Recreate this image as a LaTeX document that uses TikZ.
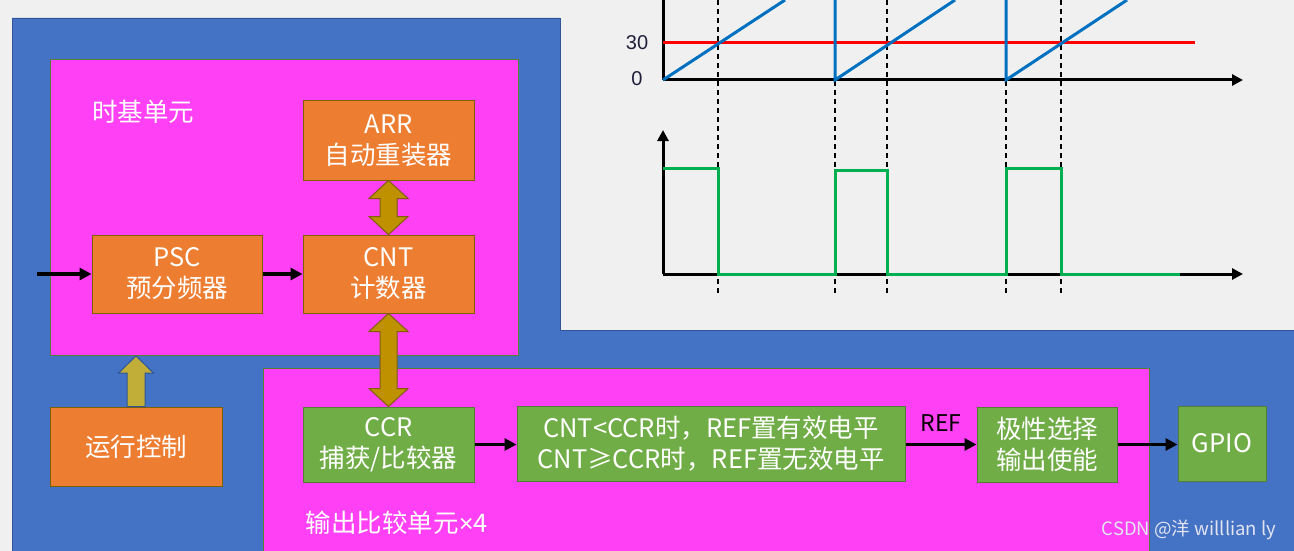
\documentclass[tikz,border=0pt]{standalone}
\usepackage{fontspec}
\setmainfont{Noto Sans CJK SC}
\newfontfamily\numfont{Liberation Sans}
\usetikzlibrary{arrows.meta,calc}
\definecolor{bgc}{HTML}{F0F0F0}
\definecolor{bluebg}{HTML}{4472C4}
\definecolor{blueedge}{HTML}{2F5597}
\definecolor{pinkc}{RGB}{255,64,245}
\definecolor{pinkedge}{HTML}{548235}
\definecolor{orangec}{HTML}{ED7D31}
\definecolor{orangeedge}{HTML}{7F6000}
\definecolor{greenc}{HTML}{70AD47}
\definecolor{greenedge}{HTML}{507E32}
\definecolor{goldc}{HTML}{BF9000}
\definecolor{goldedge}{HTML}{7F6000}
\definecolor{olivec}{HTML}{C0AE38}
\definecolor{sawc}{HTML}{0070C0}
\definecolor{pwmc}{HTML}{00B050}
\definecolor{redc}{HTML}{FF0000}
\definecolor{labc}{HTML}{1F1F3A}
\definecolor{wmc}{RGB}{226,228,240}
\tikzset{
  boxtext/.style={text=white, font=\fontsize{25.5}{31}\selectfont, align=center, inner sep=0pt},
  obox/.style={boxtext, fill=orangec, draw=orangeedge, line width=1pt},
  gbox/.style={boxtext, fill=greenc, draw=greenedge, line width=1pt},
  region/.style={fill=pinkc, draw=pinkedge, line width=1pt},
  sigarrow/.style={line width=3.2pt, -{Triangle[length=12pt,width=12pt]}},
  blockdbl/.style={fill=goldc, draw=goldedge, line width=1pt},
  blockup/.style={fill=olivec, draw=blueedge, line width=1pt},
  axisline/.style={line width=3pt, black},
  axisarrow/.style={line width=3pt, black, -{Triangle[length=11pt,width=11pt]}},
  guide/.style={line width=1.5pt, black, dash pattern=on 5pt off 4pt},
  wave/.style={line width=3pt, line join=miter}
}
\newcommand{\dblblock}[2]{%
  \path[blockdbl] let \p1=(#1), \p2=(#2) in
    (\x1,\y1) -- (\x1+19.5pt,\y1-18pt) -- (\x1+8.5pt,\y1-18pt) -- (\x1+8.5pt,\y2+18pt)
    -- (\x1+19.5pt,\y2+18pt) -- (\x1,\y2) -- (\x1-19.5pt,\y2+18pt) -- (\x1-8.5pt,\y2+18pt)
    -- (\x1-8.5pt,\y1-18pt) -- (\x1-19.5pt,\y1-18pt) -- cycle;}
\begin{document}
\begin{tikzpicture}[x=1pt,y=-1pt]
\useasboundingbox (0,0) rectangle (1294,551);
\fill[bgc] (0,0) rectangle (1294,551);
% blue area
\path[fill=bluebg, draw=blueedge, line width=0.8pt]
  (12,18) -- (560,18) -- (560,330) -- (1294,330) -- (1294,551) -- (12,551) -- cycle;
% regions
\path[region] (50,60) rectangle (518,355);
\path[region] (263,368) rectangle (1149,552);
\node[text=white, font=\fontsize{25.5}{31}\selectfont, inner sep=0pt] (tblabel) at (143,112) {时基单元};
\node[text=white, font=\fontsize{25.5}{31}\selectfont, inner sep=0pt] (oclabel) at (397,523) {输出比较单元{\numfont ×}4};
% boxes
\node[obox, minimum width=171pt, minimum height=79pt] (arr) at (388.5,140.5) {ARR\\自动重装器};
\node[obox, minimum width=170pt, minimum height=78pt] (psc) at (177,274) {PSC\\预分频器};
\node[obox, minimum width=171pt, minimum height=78pt] (cnt) at (388.5,274) {CNT\\计数器};
\node[obox, minimum width=172pt, minimum height=79pt] (run) at (136,446.5) {运行控制};
\node[gbox, minimum width=171pt, minimum height=75pt] (ccr) at (388.5,444.5) {CCR\\捕获/比较器};
\node[gbox, minimum width=388pt, minimum height=75pt] (cmp) at (711,443.5) {CNT<CCR时，REF置有效电平\\CNT≥CCR时，REF置无效电平};
\node[gbox, minimum width=140pt, minimum height=75pt] (pol) at (1047,444.5) {极性选择\\输出使能};
\node[gbox, minimum width=88pt, minimum height=75pt] (gpio) at (1222,443.5) {GPIO};
% signal arrows
\coordinate (clkin) at (37,274);
\draw[sigarrow] (clkin) -- (psc.west);
\draw[sigarrow] (psc.east) -- (cnt.west);
\draw[sigarrow] (ccr.east) -- (cmp.west |- ccr.east);
\draw[sigarrow] (cmp.east |- pol.west) -- (pol.west);
\draw[sigarrow] (pol.east) -- (gpio.west |- pol.east);
\node[text=black, font=\fontsize{23}{26}\selectfont, inner sep=0pt] (reflabel) at (941,423) {REF};
% block arrows
\dblblock{arr.south}{cnt.north}
\dblblock{cnt.south}{ccr.north}
\coordinate (runtip) at (136,356);
\path[blockup] let \p1=(runtip), \p2=(run.north) in
  (\x1,\y1) -- (\x1+17.5pt,\y1-17pt) -- (\x1+9pt,\y1-17pt) -- (\x1+9pt,\y2)
  -- (\x1-9pt,\y2) -- (\x1-9pt,\y1-17pt) -- (\x1-17.5pt,\y1-17pt) -- cycle;
% watermark
\node[text=wmc, font=\fontsize{18.5}{22}\selectfont, inner sep=0pt] (wm) at (1189,530) {CSDN @洋 willlian ly};
% ---- waveform ----
\foreach \gx in {718,835,887,1006,1061} {\draw[guide] (\gx,0) -- (\gx,296);}
\draw[axisline] (663,0) -- (663,80);
\draw[axisarrow] (663,80) -- (1243,80);
\draw[axisarrow] (663,274) -- (663,130);
\draw[axisarrow] (663,274) -- (1243,274);
\draw[wave, redc] (663,43) -- (1195,43);
\draw[wave, sawc] (663,80) -- (785,0);
\draw[wave, sawc] (835,0) -- (835,80) -- (955,0);
\draw[wave, sawc] (1006,0) -- (1006,80) -- (1127,0);
\draw[wave, pwmc] (663,168) -- (718,168) -- (718,274) -- (835,274) -- (835,170) -- (887,170)
  -- (887,274) -- (1006,274) -- (1006,168) -- (1061,168) -- (1061,274) -- (1180,274);
\node[text=labc, font=\numfont\fontsize{20}{24}\selectfont, inner sep=0pt] (lab30) at (637,43) {30};
\node[text=labc, font=\numfont\fontsize{20}{24}\selectfont, inner sep=0pt] (lab0) at (637,79) {0};
\end{tikzpicture}
\end{document}
